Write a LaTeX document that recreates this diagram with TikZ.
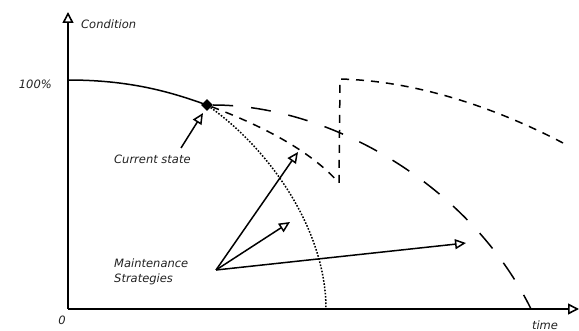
\documentclass[tikz,border=0pt]{standalone}
\usepackage{fontspec}
\setmainfont{DejaVu Sans}
\usepackage{xcolor}
\usetikzlibrary{arrows.meta,shapes.geometric}
\definecolor{bg}{HTML}{FFFFFF}
\definecolor{ink}{HTML}{000000}
\definecolor{txt}{HTML}{222222}
\tikzset{
  axis/.style={draw=ink, line width=1.8pt, -{Triangle[open,length=11pt,width=11pt,line width=1.6pt]}},
  now/.style={draw=ink, line width=1.5pt, line cap=round},
  fail/.style={draw=ink, line width=1.5pt, dash pattern=on 1.6pt off 1.6pt},
  repair/.style={draw=ink, line width=1.5pt, dash pattern=on 8pt off 7pt},
  slow/.style={draw=ink, line width=1.5pt, dash pattern=on 20pt off 18pt},
  pick/.style={draw=ink, line width=1.5pt, -{Triangle[open,length=11pt,width=10pt,line width=1.5pt]}},
  knot/.style={diamond, fill=ink, inner sep=0pt, minimum size=12pt},
  lab/.style={text=txt, font=\itshape\fontsize{11.5}{15}\selectfont, inner sep=0pt},
}
\begin{document}
\begin{tikzpicture}[x=1pt,y=-1pt]
  \useasboundingbox[fill=bg] (0,0) rectangle (579,331);
  % axes
  \coordinate (O) at (68,309);
  \coordinate (ytop) at (68,12);
  \coordinate (xend) at (579,309);
  \draw[axis] (O) -- (ytop);
  \draw[axis] (O) -- (xend);
  \node[lab, anchor=west] (cond) at (81,24) {Condition};
  \node[lab, anchor=east] (full) at (52,84) {100\%};
  \node[lab] (zero) at (62,320) {0};
  \node[lab, anchor=south] (time) at (545,330) {time};
  % condition curves
  \coordinate (c0) at (68,80);
  \node[knot] (cs) at (207,105) {};
  \coordinate (low) at (339,183);
  \coordinate (top) at (340,79);
  \coordinate (r1) at (563,143);
  \coordinate (f1) at (326,309);
  \coordinate (s1) at (531,309);
  \draw[now] (c0) .. controls (130,80) and (170,92) .. (cs);
  \draw[fail] (cs) .. controls (270,150) and (326,230) .. (f1);
  \draw[slow] (cs) .. controls (330,105) and (470,185) .. (s1);
  \draw[repair] (cs) .. controls (260,125) and (310,150) .. (low)
    -- (top) .. controls (420,81) and (500,110) .. (r1);
  % labels with arrows
  \node[lab, anchor=west] (state) at (114,159) {Current state};
  \coordinate (st0) at (181,148);
  \coordinate (st1) at (203,113);
  \draw[pick] (st0) -- (st1);
  \node[lab, anchor=west, align=left] (strat) at (114,272) {Maintenance\\Strategies};
  \coordinate (ms) at (216,270);
  \coordinate (m1) at (298,152);
  \coordinate (m2) at (290,222);
  \coordinate (m3) at (466,243);
  \draw[pick] (ms) -- (m1);
  \draw[pick] (ms) -- (m2);
  \draw[pick] (ms) -- (m3);
\end{tikzpicture}
\end{document}
